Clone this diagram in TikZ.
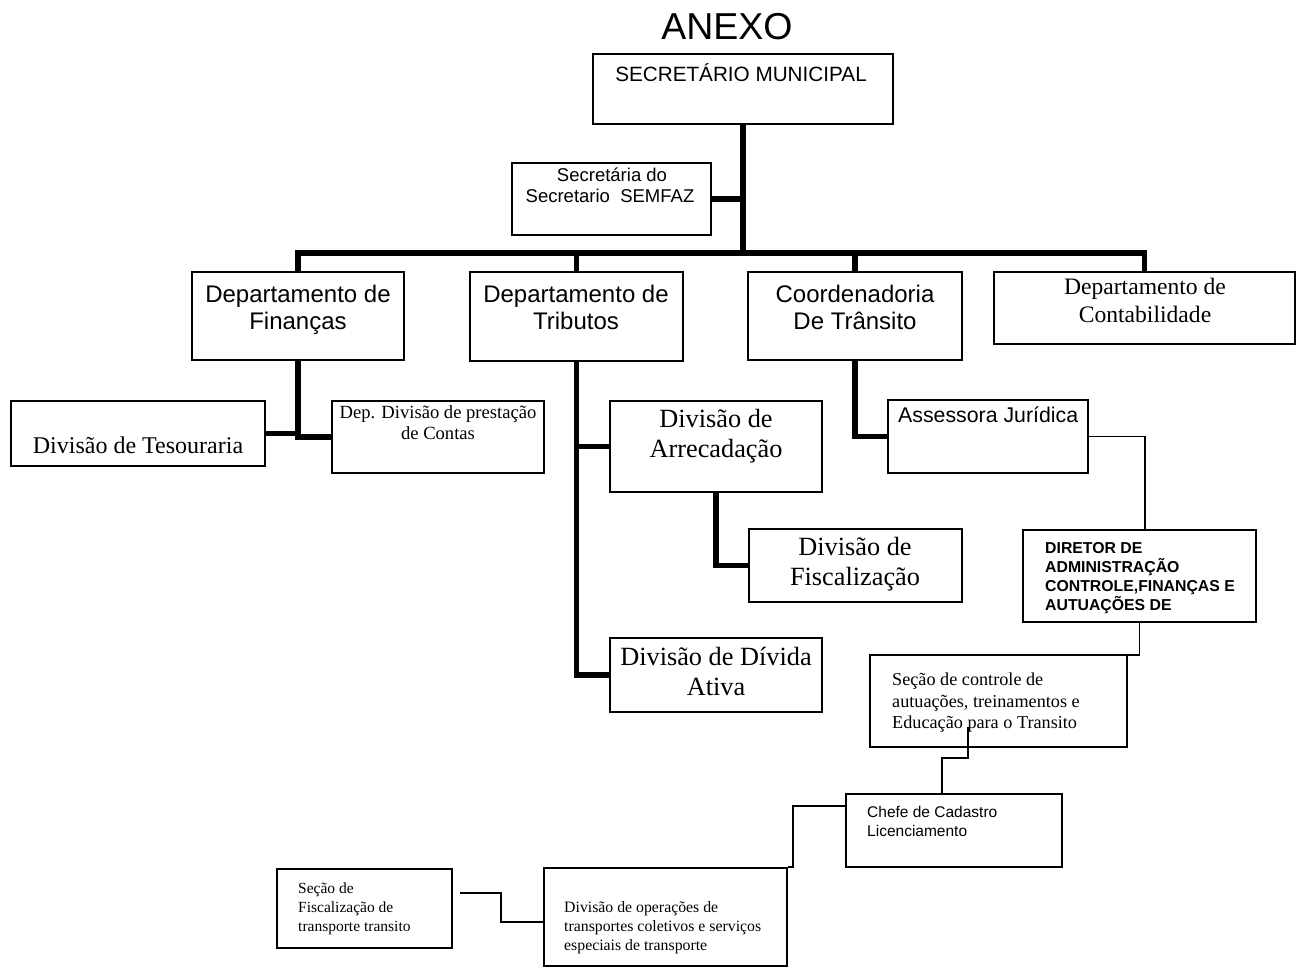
\documentclass[tikz,border=0pt]{standalone}
\usepackage{fontspec}
\setmainfont{Liberation Serif}
\newfontfamily\arialf{Liberation Sans}
\usetikzlibrary{fit}
\tikzset{
  box/.style={draw, line width=1.6pt, inner sep=0pt},
  thicklink/.style={line width=5.5pt, line join=miter},
  thinlink/.style={line width=1.8pt, line join=miter},
  lbl/.style={anchor=base, inner sep=0pt, align=center},
  lbll/.style={anchor=base west, inner sep=0pt, align=left},
}
\newcommand\fsz[1]{\fontsize{#1}{#1}\selectfont}
\begin{document}
\begin{tikzpicture}[x=1pt,y=-1pt]
\useasboundingbox (0,0) rectangle (1301,968);
% boxes
\node[box, fit={(593,54) (893,124)}] (sm) {};
\node[box, fit={(512,163) (711,235)}] (sec) {};
\node[box, fit={(192,272) (404,360)}] (fin) {};
\node[box, fit={(470,272) (683,361)}] (trib) {};
\node[box, fit={(748,272) (962,360)}] (coord) {};
\node[box, fit={(994,272) (1295,344)}] (cont) {};
\node[box, fit={(11,401) (265,466)}] (tes) {};
\node[box, fit={(332,401) (544,473)}] (prest) {};
\node[box, fit={(610,401) (822,492)}] (arr) {};
\node[box, fit={(749,529) (962,602)}] (fisc) {};
\node[box, fit={(610,638) (822,712)}] (div) {};
\node[box, fit={(888,400) (1088,473)}] (ass) {};
\node[box, fit={(1023,530) (1256,622)}] (dir) {};
\node[box, fit={(870,655) (1127,747)}] (secc) {};
\node[box, fit={(846,794) (1062,867)}] (chefe) {};
\node[box, fit={(544,868) (787,966)}] (divop) {};
\node[box, fit={(277,869) (452,948)}] (secf) {};
% texts
\node[lbl, font=\arialf\fsz{37.5}] (tanexo) at (727,40) {ANEXO};
\node[lbl, font=\arialf\fsz{20.7}] (tsm) at (741,82) {SECRETÁRIO MUNICIPAL};
\node[lbl, font=\arialf\fsz{18.5}] (tsec1) at (612,182) {Secretária do};
\node[lbl, font=\arialf\fsz{18.5}] (tsec2) at (610,203) {Secretario~ SEMFAZ};
\node[lbl, font=\arialf\fsz{24}] (tfin1) at (298,302) {Departamento de};
\node[lbl, font=\arialf\fsz{24}] (tfin2) at (298,330) {Finanças};
\node[lbl, font=\arialf\fsz{24}] (ttrib1) at (576,302) {Departamento de};
\node[lbl, font=\arialf\fsz{24}] (ttrib2) at (576,330) {Tributos};
\node[lbl, font=\arialf\fsz{24}] (tcoord1) at (855,302) {Coordenadoria};
\node[lbl, font=\arialf\fsz{24}] (tcoord2) at (855,330) {De Trânsito};
\node[lbl, font=\fsz{23.6}] (tcont1) at (1145,295) {Departamento de};
\node[lbl, font=\fsz{23.6}] (tcont2) at (1145,323) {Contabilidade};
\node[lbl, font=\fsz{24}] (ttes) at (138,453) {Divisão de Tesouraria};
\node[lbl, font=\fsz{18.6}] (tprest1) at (438,418) {Dep. Divisão de prestação};
\node[lbl, font=\fsz{18.6}] (tprest2) at (438,439) {de Contas};
\node[lbl, font=\fsz{26.3}] (tarr1) at (716,427) {Divisão de};
\node[lbl, font=\fsz{26.3}] (tarr2) at (716,457) {Arrecadação};
\node[lbl, font=\fsz{26.3}] (tfisc1) at (855,555) {Divisão de};
\node[lbl, font=\fsz{26.3}] (tfisc2) at (855,585) {Fiscalização};
\node[lbl, font=\fsz{26.3}] (tdiv1) at (716,665) {Divisão de Dívida};
\node[lbl, font=\fsz{26.3}] (tdiv2) at (716,695) {Ativa};
\node[lbll, font=\arialf\fsz{21.3}] (tass) at (898,422) {Assessora Jurídica};
\node[lbll, font=\arialf\bfseries\fsz{15.8}] (tdir1) at (1045,553) {DIRETOR DE};
\node[lbll, font=\arialf\bfseries\fsz{15.8}] (tdir2) at (1045,572) {ADMINISTRAÇÃO};
\node[lbll, font=\arialf\bfseries\fsz{15.8}] (tdir3) at (1045,591) {CONTROLE,FINANÇAS E};
\node[lbll, font=\arialf\bfseries\fsz{15.8}] (tdir4) at (1045,610) {AUTUAÇÕES DE};
\node[lbll, font=\fsz{18.2}] (tsecc1) at (892,685) {Seção de controle de};
\node[lbll, font=\fsz{18.2}] (tsecc2) at (892,707) {autuações, treinamentos e};
\node[lbll, font=\fsz{18.2}] (tsecc3) at (892,728) {Educação para o Transito};
\node[lbll, font=\arialf\fsz{15.5}] (tchefe1) at (867,817) {Chefe de Cadastro};
\node[lbll, font=\arialf\fsz{15.5}] (tchefe2) at (867,836) {Licenciamento};
\node[lbll, font=\fsz{15.8}] (tdivop1) at (564,912) {Divisão de operações de};
\node[lbll, font=\fsz{15.8}] (tdivop2) at (564,931) {transportes coletivos e serviços};
\node[lbll, font=\fsz{15.8}] (tdivop3) at (564,950) {especiais de transporte};
\node[lbll, font=\fsz{15.5}] (tsecf1) at (298,893) {Seção de};
\node[lbll, font=\fsz{15.5}] (tsecf2) at (298,912) {Fiscalização de};
\node[lbll, font=\fsz{15.5}] (tsecf3) at (298,931) {transporte transito};
% coordinates
\coordinate (bus) at (0,253);
\coordinate (j1) at (1145,0);
\coordinate (j2) at (1080,655);
\coordinate (j3) at (968,727);
\coordinate (j4) at (942,758);
\coordinate (j5) at (793,806);
\coordinate (j6) at (460,893);
\coordinate (j7) at (501,922);
% thick connectors
\draw[thicklink] (sm.south) -- (sm.south |- bus);
\draw[thicklink] (sec.east) -- (sec.east -| sm.south);
\draw[thicklink] (fin.north) -- (fin.north |- bus) -- (cont.north |- bus) -- (cont.north);
\draw[thicklink] (trib.north) -- (trib.north |- bus);
\draw[thicklink] (coord.north) -- (coord.north |- bus);
\draw[thicklink] (fin.south) -- (fin.south |- prest.west) -- (prest.west);
\draw[thicklink] (tes.east) -- (tes.east -| fin.south);
\draw[thicklink] (trib.south) -- (trib.south |- div.west) -- (div.west);
\draw[thicklink] (arr.west) -- (arr.west -| trib.south);
\draw[thicklink] (arr.south) -- (arr.south |- fisc.west) -- (fisc.west);
\draw[thicklink] (coord.south) -- (coord.south |- ass.west) -- (ass.west);
% thin connectors
\draw[thinlink] (ass.east) -- (ass.east -| j1) -- (j1 |- dir.north);
\draw[thinlink] (dir.south) -- (dir.south |- j2) -- (j2);
\draw[thinlink] (j3) -- (j3 |- j4) -- (j4) -- (j4 |- chefe.north);
\draw[thinlink] (j5 -| chefe.west) -- (j5) -- (j5 |- divop.north) -- (divop.north east);
\draw[thinlink] (j6) -- (j6 -| j7) -- (j7) -- (j7 -| divop.west);
\end{tikzpicture}
\end{document}
